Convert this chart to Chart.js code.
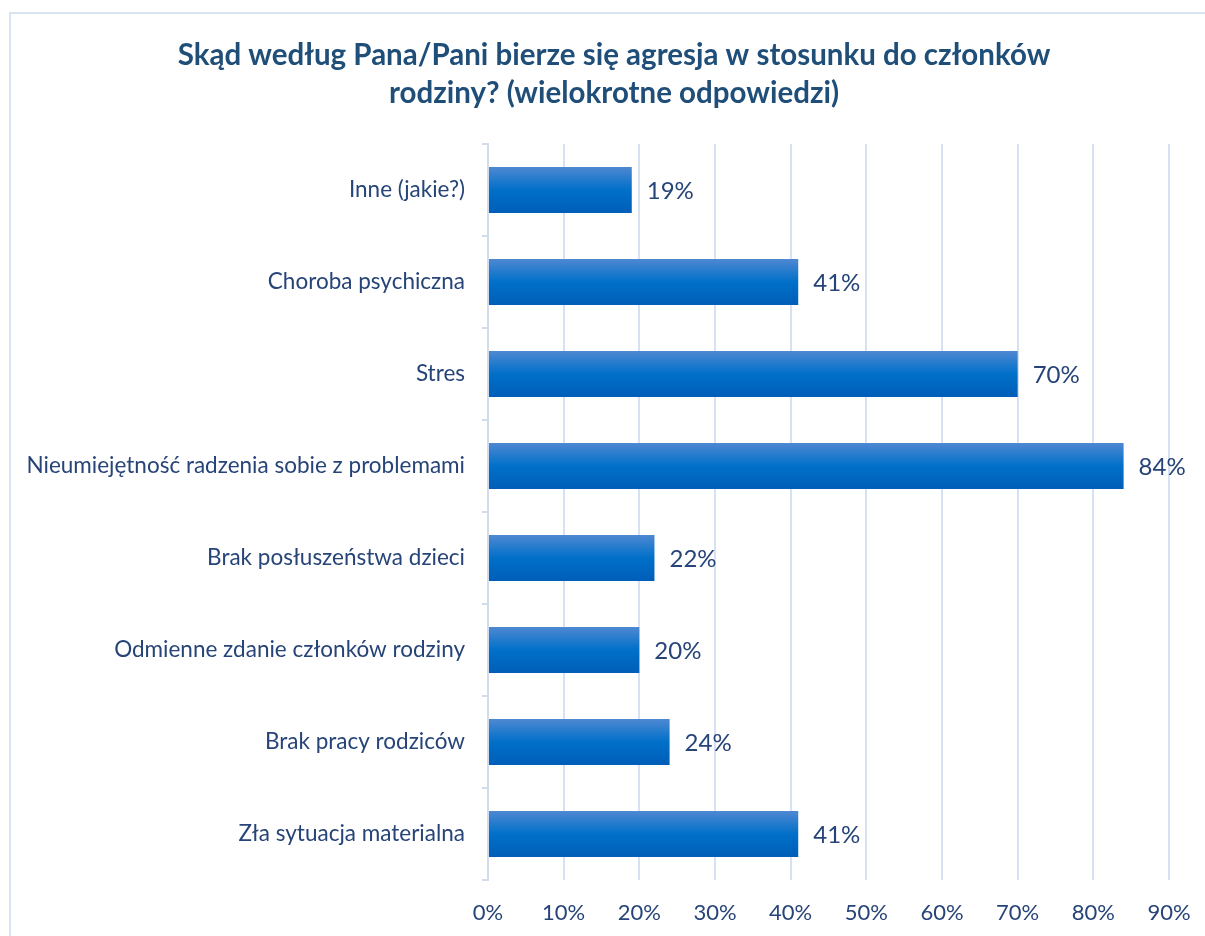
<!DOCTYPE html>
<html>
<head>
<meta charset="utf-8">
<script src="https://cdn.jsdelivr.net/npm/chart.js@4.4.1/dist/chart.umd.min.js"></script>
<style>
html,body{margin:0;padding:0;background:#fff;width:1205px;height:936px;overflow:hidden;}
#frame{position:absolute;left:9px;top:12px;width:1300px;height:1000px;border-left:2px solid #D9E4F2;border-top:2px solid #D9E4F2;box-sizing:border-box;}
#wrap{position:absolute;left:0;top:0;width:1205px;height:936px;}
</style>
</head>
<body>
<div id="frame"></div>
<div id="wrap"><canvas id="c" width="1205" height="936"></canvas></div>
<script>
const titleLines = ["Skąd według Pana/Pani bierze się agresja w stosunku do członków", "rodziny? (wielokrotne odpowiedzi)"];
const categories = ["Inne (jakie?)", "Choroba psychiczna", "Stres", "Nieumiejętność radzenia sobie z problemami", "Brak posłuszeństwa dzieci", "Odmienne zdanie członków rodziny", "Brak pracy rodziców", "Zła sytuacja materialna"];
const values = [19, 41, 70, 84, 22, 20, 24, 41];
const xTicks = [0, 10, 20, 30, 40, 50, 60, 70, 80, 90];

const FONT = "Lato, 'Open Sans', sans-serif";
const TEXT = "#264478";
const BAR_PCT = 0.5;

function barGradient(context) {
  const chart = context.chart;
  const y = chart.scales.y;
  if (!y || !chart.chartArea) return '#0070C9';
  const center = y.getPixelForValue(context.dataIndex);
  const half = (y.height / categories.length) * BAR_PCT / 2;
  const g = chart.ctx.createLinearGradient(0, center - half, 0, center + half);
  g.addColorStop(0, '#4F88D2');
  g.addColorStop(0.5, '#0070C9');
  g.addColorStop(1, '#005EB8');
  return g;
}

const titlePlugin = {
  id: 'centeredTitle',
  afterDraw(chart) {
    const ctx = chart.ctx;
    ctx.save();
    ctx.font = "bold 29.5px " + FONT;
    ctx.fillStyle = '#1F4E79';
    ctx.textAlign = 'center';
    ctx.textBaseline = 'middle';
    titleLines.forEach((line, i) => ctx.fillText(line, 614, 55 + i * 38));
    ctx.restore();
  }
};

const labelPlugin = {
  id: 'valueLabels',
  afterDatasetsDraw(chart) {
    const ctx = chart.ctx;
    ctx.save();
    ctx.font = "24px " + FONT;
    ctx.fillStyle = TEXT;
    ctx.textAlign = 'left';
    ctx.textBaseline = 'middle';
    chart.getDatasetMeta(0).data.forEach((el, i) => {
      ctx.fillText(values[i] + '%', el.x + 15, el.y + 1);
    });
    ctx.restore();
  }
};

new Chart(document.getElementById('c'), {
  type: 'bar',
  data: {
    labels: categories,
    datasets: [{
      data: values,
      backgroundColor: barGradient,
      borderWidth: 0,
      barPercentage: BAR_PCT,
      categoryPercentage: 1.0
    }]
  },
  options: {
    indexAxis: 'y',
    responsive: false,
    animation: false,
    layout: { padding: { left: 0, right: 36, top: 144, bottom: 0 } },
    plugins: {
      legend: { display: false },
      tooltip: { enabled: false },
      title: { display: false }
    },
    scales: {
      x: {
        min: 0, max: 90,
        afterBuildTicks(scale) { scale.ticks = xTicks.map(v => ({ value: v })); },
        afterFit(scale) { scale.height = 56; scale.paddingLeft = 0; scale.paddingRight = 0; },
        ticks: {
          color: TEXT,
          font: { family: FONT, size: 22 },
          padding: 20,
          maxRotation: 0,
          autoSkip: false,
          callback: v => v + '%'
        },
        grid: { color: '#D6E2F2', lineWidth: 2, drawTicks: false },
        border: { display: false }
      },
      y: {
        afterFit(scale) { scale.width = 488; scale.paddingTop = 0; scale.paddingBottom = 0; },
        ticks: {
          color: TEXT,
          font: { family: FONT, size: 22.5 },
          padding: 17
        },
        grid: { drawOnChartArea: false, drawTicks: true, tickLength: 6, color: '#D0DCEC', lineWidth: 2 },
        border: { display: true, color: '#D0DCEC', width: 2 }
      }
    }
  },
  plugins: [labelPlugin, titlePlugin]
});
</script>
</body>
</html>
